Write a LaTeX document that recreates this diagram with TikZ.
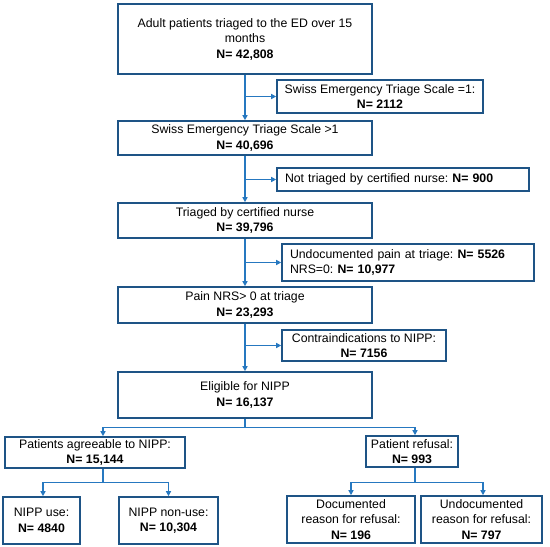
\documentclass[tikz,border=0pt]{standalone}
\usepackage{fontspec}
\setmainfont{Liberation Sans}
\usetikzlibrary{arrows.meta}
\definecolor{boxblue}{RGB}{30,84,134}
\definecolor{linkblue}{RGB}{38,120,192}
\frenchspacing

\begin{document}
\begin{tikzpicture}[x=1bp,y=-1bp,>={Triangle[length=5bp,width=5bp]},
  box/.style={draw=boxblue,line width=1.6bp,inner sep=0pt,align=center,
    font=\fontsize{12.3bp}{15.5bp}\selectfont},
  sidebox/.style={box,align=left,inner xsep=8bp,text width=236bp},
  link/.style={draw=linkblue,line width=1.3bp}]
  \useasboundingbox (0,0) rectangle (550,547);
  % main column
  \node[box,minimum width=254bp,minimum height=70bp] (adult) at (245,39)
    {Adult patients triaged to the ED over 15\\months\\\textbf{N= 42,808}};
  \node[box,minimum width=254bp,minimum height=34bp] (swiss) at (245,138)
    {Swiss Emergency Triage Scale >1\\\textbf{N= 40,696}};
  \node[box,minimum width=254bp,minimum height=35bp] (nurse) at (245,220.5)
    {Triaged by certified nurse\\\textbf{N= 39,796}};
  \node[box,minimum width=254bp,minimum height=36bp] (pain) at (245,305)
    {Pain NRS> 0 at triage\\\textbf{N= 23,293}};
  \node[box,minimum width=254bp,minimum height=46bp] (elig) at (245,395)
    {Eligible for NIPP\\\textbf{N= 16,137}};
  % exclusions
  \node[box,minimum width=206bp,minimum height=33bp] (scale1) at (380,96.5)
    {Swiss Emergency Triage Scale =1:\\\textbf{N= 2112}};
  \node[sidebox,minimum height=23bp] (notcert) at (403,179.5)
    {Not triaged by certified nurse: \textbf{N= 900}};
  \node[sidebox,minimum height=37bp] (nopain) at (408,262.5)
    {Undocumented pain at triage: \textbf{N= 5526}\\NRS=0: \textbf{N= 10,977}};
  \node[box,minimum width=164bp,minimum height=31bp] (contra) at (364,345.5)
    {Contraindications to NIPP:\\\textbf{N= 7156}};
  % branches
  \node[box,minimum width=180bp,minimum height=31bp] (agree) at (95,452.5)
    {Patients agreeable to NIPP:\\\textbf{N= 15,144}};
  \node[box,minimum width=92bp,minimum height=31bp] (refus) at (412,451.5)
    {Patient refusal:\\\textbf{N= 993}};
  \node[box,minimum width=77bp,minimum height=47bp] (use) at (41.5,520.5)
    {NIPP use:\\\textbf{N= 4840}};
  \node[box,minimum width=99bp,minimum height=47bp] (nonuse) at (168.5,520.5)
    {NIPP non-use:\\\textbf{N= 10,304}};
  \node[box,minimum width=128bp,minimum height=47bp] (docu) at (351,519.5)
    {Documented\\reason for refusal:\\\textbf{N= 196}};
  \node[box,minimum width=121bp,minimum height=47bp] (undocu) at (481.5,519.5)
    {Undocumented\\reason for refusal:\\\textbf{N= 797}};

  % connectors
  \draw[link,->] (adult.south) -- (swiss.north);
  \draw[link,->] (swiss.south) -- (nurse.north);
  \draw[link,->] (nurse.south) -- (pain.north);
  \draw[link,->] (pain.south) -- (elig.north);
  \draw[link,->] (scale1.west -| adult.south) -- (scale1.west);
  \draw[link,->] (notcert.west -| swiss.south) -- (notcert.west);
  \draw[link,->] (nopain.west -| nurse.south) -- (nopain.west);
  \draw[link,->] (contra.west -| pain.south) -- (contra.west);
  \draw[link] (elig.south) -- ++(0,9) coordinate (fork1);
  \draw[link,->] (fork1) -| ([xshift=8bp]agree.north);
  \draw[link,->] (fork1) -| ([xshift=3bp]refus.north);
  \draw[link] ([xshift=8bp]agree.south) -- ++(0,14) coordinate (fork2);
  \draw[link,->] (fork2) -| ([xshift=1.5bp]use.north);
  \draw[link,->] (fork2) -| (nonuse.north);
  \draw[link] ([xshift=3bp]refus.south) -- ++(0,15) coordinate (fork3);
  \draw[link,->] (fork3) -| (docu.north);
  \draw[link,->] (fork3) -| ([xshift=1.5bp]undocu.north);
\end{tikzpicture}
\end{document}
